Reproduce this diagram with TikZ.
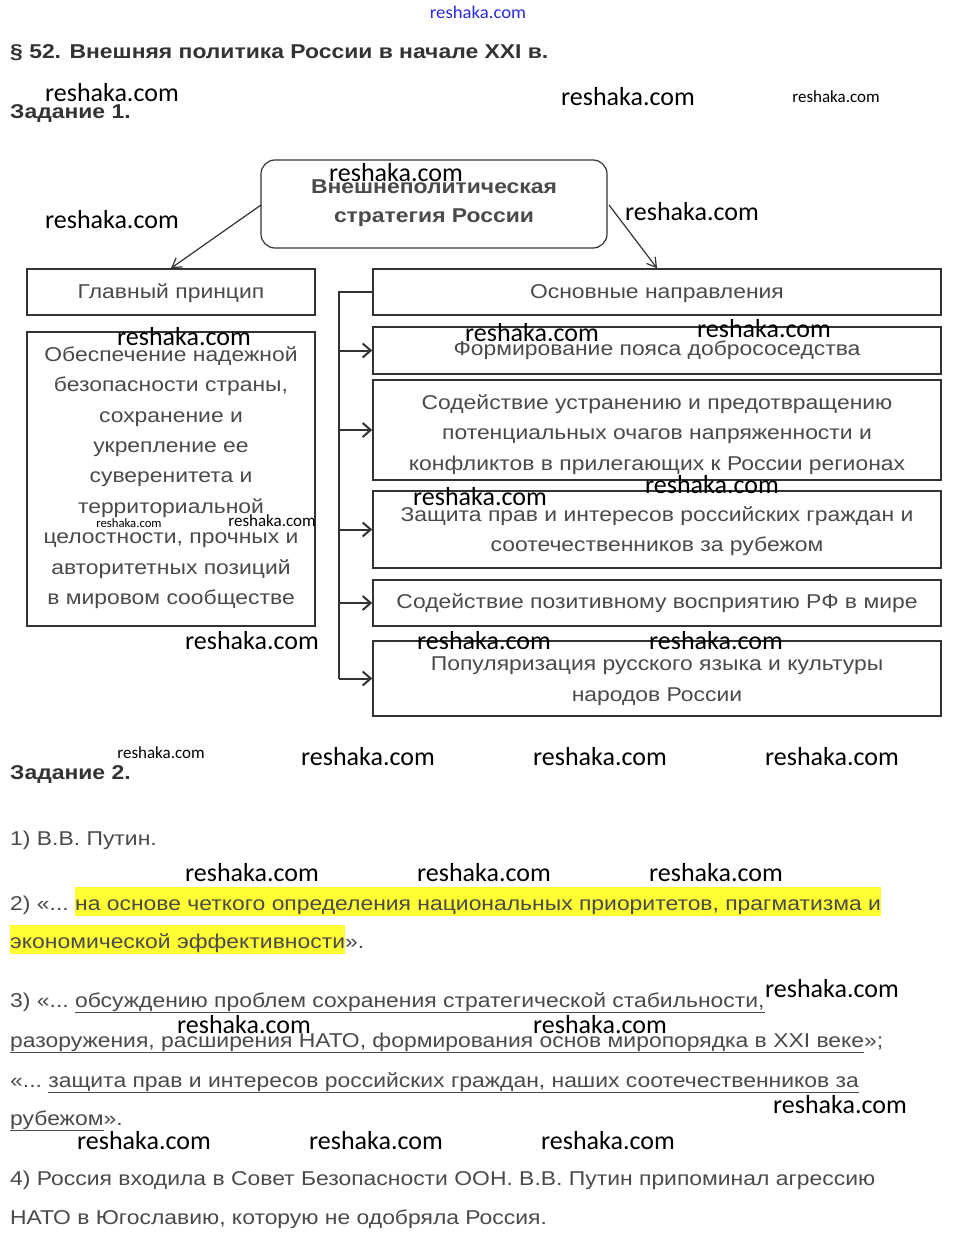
\documentclass[tikz,border=0pt]{standalone}
\usepackage{fontspec}
\setmainfont{Liberation Sans}[FakeStretch=1.145]
\newfontfamily\wmfont{Carlito}
\usetikzlibrary{arrows.meta}
\definecolor{txtgray}{HTML}{4A4A4A}
\definecolor{boxline}{HTML}{333333}
\definecolor{hlyellow}{HTML}{FFFF33}
\definecolor{wmblue}{HTML}{2B2BE0}
\newcommand{\hlt}[1]{{\setlength\fboxsep{0pt}\colorbox{hlyellow}{\rule[-6pt]{0pt}{29pt}#1}}}
\begin{document}
\begin{tikzpicture}[x=1pt,y=-1pt,
  box/.style={draw=boxline,line width=1.6pt,inner sep=0pt},
  rbox/.style={draw=boxline,line width=1.2pt,rounded corners=14pt,inner sep=0pt},
  btxt/.style={text=txtgray,font=\fontsize{20}{30.4}\selectfont,align=center,inner sep=0pt},
  body/.style={text=txtgray,font=\fontsize{20}{24}\selectfont,anchor=base west,inner sep=0pt},
  head/.style={text=boxline,font=\bfseries\fontsize{20}{24}\selectfont,anchor=base west,inner sep=0pt},
  wm/.style={text=black,font=\wmfont\fontsize{26}{26}\selectfont,inner sep=0pt},
  wms/.style={text=black,font=\wmfont\fontsize{17}{17}\selectfont,inner sep=0pt},
  wmt/.style={text=black,font=\wmfont\fontsize{12.7}{13}\selectfont,inner sep=0pt},
  thinarrow/.style={draw=boxline,line width=1.2pt,-{Straight Barb[length=9pt,width=11pt,line width=1.2pt]}},
  busarrow/.style={draw=boxline,line width=2pt,-{Straight Barb[length=8pt,width=14pt,line width=2pt]}}
]
\useasboundingbox (0,0) rectangle (953,1245);
\fill[white] (0,0) rectangle (953,1245);

% top blue watermark
\node[text=wmblue,font=\wmfont\fontsize{17}{17}\selectfont,inner sep=0pt,xscale=1.1,yscale=1.05] (wmtop) at (478,12) {reshaka.com};

% headings
\node[head] (title) at (10,58) {§ 52. Внешняя политика России в начале XXI в.};
\node[head] (z1) at (10,118) {Задание 1.};

% central box
\node[rbox,minimum width=346pt,minimum height=88pt] (core) at (434,204) {};
\node[btxt,font=\bfseries\fontsize{20}{29}\selectfont,text=txtgray] (coret) at (434,203) {Внешнеполитическая\\стратегия России};

% left column
\node[box,minimum width=288pt,minimum height=46pt] (gp) at (171,292) {};
\node[btxt] (gpt) at (171,293) {Главный принцип};
\node[box,minimum width=288pt,minimum height=294pt] (gpb) at (171,479) {};
\node[btxt] (gpbt) at (171,477.5) {Обеспечение надежной\\безопасности страны,\\сохранение и\\укрепление ее\\суверенитета и\\территориальной\\целостности, прочных и\\авторитетных позиций\\в мировом сообществе};

% right column
\node[box,minimum width=568pt,minimum height=46pt] (osn) at (657,292) {};
\node[btxt] (osnt) at (657,294) {Основные направления};
\node[box,minimum width=568pt,minimum height=47pt] (d1) at (657,350.5) {};
\node[btxt] (d1t) at (657,350.5) {Формирование пояса добрососедства};
\node[box,minimum width=568pt,minimum height=100pt] (d2) at (657,430) {};
\node[btxt] (d2t) at (657,434.5) {Содействие устранению и предотвращению\\потенциальных очагов напряженности и\\конфликтов в прилегающих к России регионах};
\node[box,minimum width=568pt,minimum height=77pt] (d3) at (657,529.5) {};
\node[btxt] (d3t) at (657,531) {Защита прав и интересов российских граждан и\\соотечественников за рубежом};
\node[box,minimum width=568pt,minimum height=46pt] (d4) at (657,603) {};
\node[btxt] (d4t) at (657,603) {Содействие позитивному восприятию РФ в мире};
\node[box,minimum width=568pt,minimum height=75pt] (d5) at (657,678.5) {};
\node[btxt] (d5t) at (657,681) {Популяризация русского языка и культуры\\народов России};

% connectors
\coordinate (bustop) at (339,292);
\coordinate (busbot) at (339,678.5);
\coordinate (lstart) at (261,205);
\coordinate (rstart) at (609,205);
\draw[thinarrow] (lstart) -- (gp.north);
\draw[thinarrow] (rstart) -- (osn.north);
\draw[draw=boxline,line width=2.5pt] (osn.west) -- (bustop) -- (busbot);
\draw[busarrow] (bustop |- d1.west) -- (d1.west);
\draw[busarrow] (bustop |- d2.west) -- (d2.west);
\draw[busarrow] (bustop |- d3.west) -- (d3.west);
\draw[busarrow] (bustop |- d4.west) -- (d4.west);
\draw[busarrow] (busbot) -- (d5.west);

% task 2
\node[head] (z2) at (10,779) {Задание 2.};
\node[body] (a1) at (10,845) {1) В.В. Путин.};
\node[body] (a2a) at (10,910) {2) «...\ \hlt{на основе четкого определения национальных приоритетов, прагматизма и}};
\node[body] (a2b) at (10,948) {\hlt{экономической эффективности}».};
\node[body] (a3a) at (10,1007) {3) «...\ \underline{обсуждению проблем сохранения стратегической стабильности,}};
\node[body] (a3b) at (10,1047) {\underline{разоружения, расширения НАТО, формирования основ миропорядка в XXI веке}»;};
\node[body] (a3c) at (10,1087) {«...\ \underline{защита прав и интересов российских граждан, наших соотечественников за}};
\node[body] (a3d) at (10,1125) {\underline{рубежом}».};
\node[body] (a4a) at (10,1185) {4) Россия входила в Совет Безопасности ООН. В.В. Путин припоминал агрессию};
\node[body] (a4b) at (10,1224) {НАТО в Югославию, которую не одобряла Россия.};

% watermarks
\node[wm] (w1) at (112,93) {reshaka.com};
\node[wm] (w2) at (628,97) {reshaka.com};
\node[wms] (w3) at (836,97) {reshaka.com};
\node[wm] (w4) at (396,173) {reshaka.com};
\node[wm] (w5) at (112,220) {reshaka.com};
\node[wm] (w6) at (692,212) {reshaka.com};
\node[wm] (w7) at (184,337) {reshaka.com};
\node[wm] (w8) at (532,333) {reshaka.com};
\node[wm] (w9) at (764,329) {reshaka.com};
\node[wm] (w10) at (480,497) {reshaka.com};
\node[wm] (w11) at (712,485) {reshaka.com};
\node[wmt] (w12) at (129,523) {reshaka.com};
\node[wms] (w13) at (272,521) {reshaka.com};
\node[wm] (w14) at (252,641) {reshaka.com};
\node[wm] (w15) at (484,641) {reshaka.com};
\node[wm] (w16) at (716,641) {reshaka.com};
\node[wms] (w17) at (161,753) {reshaka.com};
\node[wm] (w18) at (368,757) {reshaka.com};
\node[wm] (w19) at (600,757) {reshaka.com};
\node[wm] (w20) at (832,757) {reshaka.com};
\node[wm] (w21) at (252,873) {reshaka.com};
\node[wm] (w22) at (484,873) {reshaka.com};
\node[wm] (w23) at (716,873) {reshaka.com};
\node[wm] (w24) at (832,989) {reshaka.com};
\node[wm] (w25) at (244,1025) {reshaka.com};
\node[wm] (w26) at (600,1025) {reshaka.com};
\node[wm] (w27) at (840,1105) {reshaka.com};
\node[wm] (w28) at (144,1141) {reshaka.com};
\node[wm] (w29) at (376,1141) {reshaka.com};
\node[wm] (w30) at (608,1141) {reshaka.com};
\end{tikzpicture}
\end{document}
